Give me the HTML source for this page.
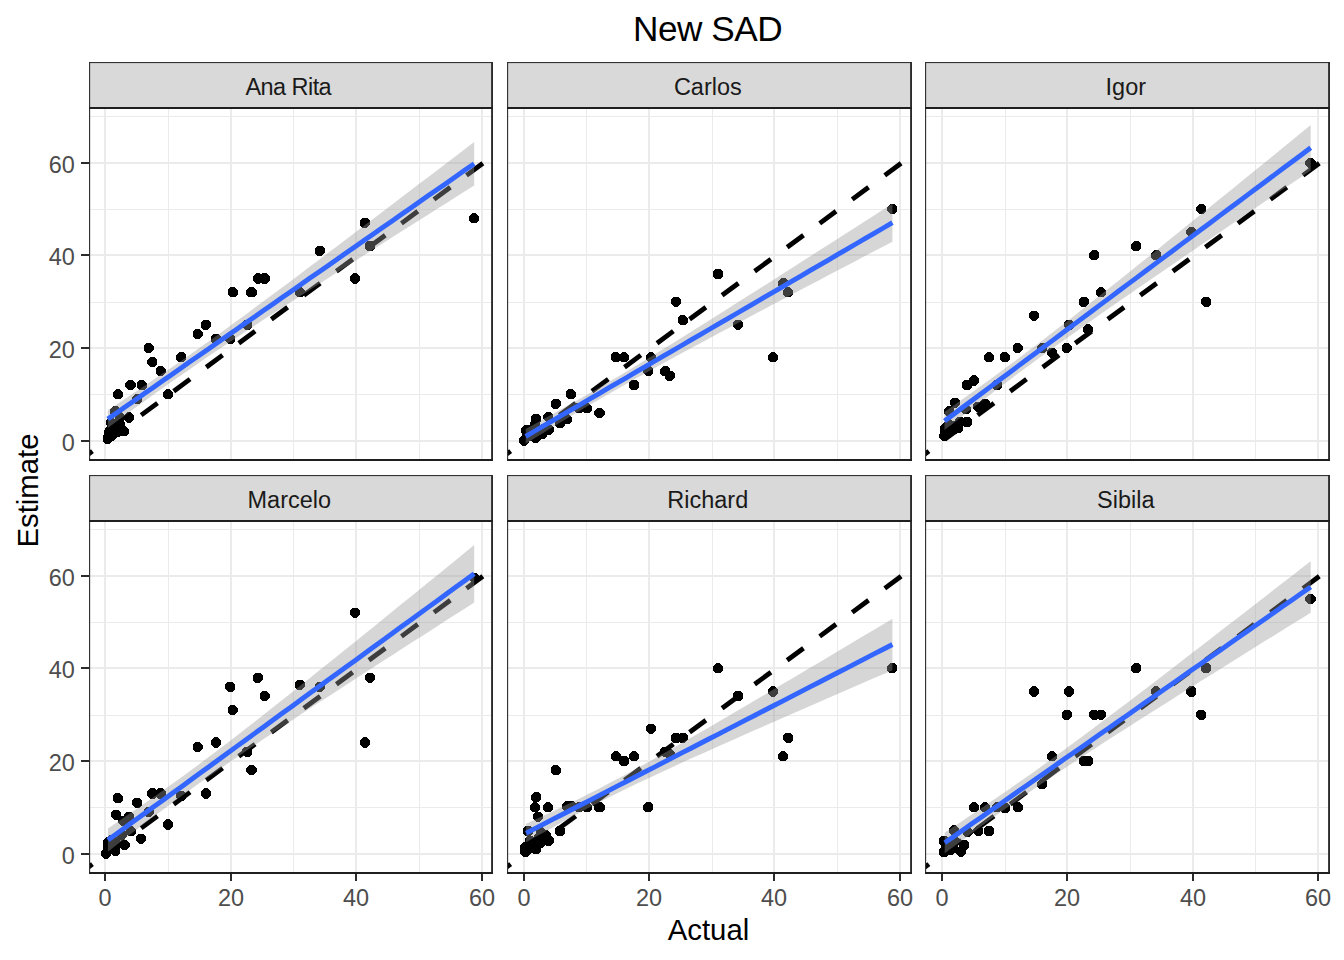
<!DOCTYPE html><html><head><meta charset="utf-8"><title>New SAD</title>
<style>html,body{margin:0;padding:0;background:#fff}svg{display:block}text{font-family:"Liberation Sans",sans-serif}</style></head><body>
<svg width="1344" height="960" viewBox="0 0 1344 960">
<rect width="1344" height="960" fill="#fff"/>
<defs>
<clipPath id="c0"><rect x="89.0" y="108.0" width="404.0" height="352.0"/></clipPath>
<clipPath id="c1"><rect x="507.0" y="108.0" width="405.0" height="352.0"/></clipPath>
<clipPath id="c2"><rect x="925.0" y="108.0" width="405.0" height="352.0"/></clipPath>
<clipPath id="c3"><rect x="89.0" y="521.0" width="404.0" height="352.0"/></clipPath>
<clipPath id="c4"><rect x="507.0" y="521.0" width="405.0" height="352.0"/></clipPath>
<clipPath id="c5"><rect x="925.0" y="521.0" width="405.0" height="352.0"/></clipPath>
<path id="o" d="M-2.09,-5.05L2.09,-5.05L5.05,-2.09L5.05,2.09L2.09,5.05L-2.09,5.05L-5.05,2.09L-5.05,-2.09Z"/>
</defs>
<text x="707.6" y="40.9" font-size="35.2" text-anchor="middle" fill="#000" letter-spacing="-0.5">New SAD</text>
<text x="708.5" y="939.5" font-size="29.33" text-anchor="middle" fill="#000">Actual</text>
<text transform="translate(37.6,490.5) rotate(-90)" font-size="29.33" text-anchor="middle" fill="#000">Estimate</text>
<rect x="89.0" y="62.0" width="404.0" height="46.0" fill="#D9D9D9"/>
<text x="288.3" y="94.6" font-size="23.47" text-anchor="middle" fill="#1A1A1A" letter-spacing="-0.55">Ana Rita</text>
<rect x="168" y="108.0" width="1" height="352.0" fill="#EBEBEB"/><rect x="293" y="108.0" width="1" height="352.0" fill="#EBEBEB"/><rect x="419" y="108.0" width="1" height="352.0" fill="#EBEBEB"/><rect x="89.0" y="394" width="404.0" height="1" fill="#EBEBEB"/><rect x="89.0" y="302" width="404.0" height="1" fill="#EBEBEB"/><rect x="89.0" y="209" width="404.0" height="1" fill="#EBEBEB"/><rect x="89.0" y="116" width="404.0" height="1" fill="#EBEBEB"/><rect x="104" y="108.0" width="2" height="352.0" fill="#EBEBEB"/><rect x="89.0" y="440" width="404.0" height="2" fill="#EBEBEB"/><rect x="230" y="108.0" width="2" height="352.0" fill="#EBEBEB"/><rect x="89.0" y="347" width="404.0" height="2" fill="#EBEBEB"/><rect x="355" y="108.0" width="2" height="352.0" fill="#EBEBEB"/><rect x="89.0" y="254" width="404.0" height="2" fill="#EBEBEB"/><rect x="481" y="108.0" width="2" height="352.0" fill="#EBEBEB"/><rect x="89.0" y="162" width="404.0" height="2" fill="#EBEBEB"/>
<g clip-path="url(#c0)">
<g fill="#000" shape-rendering="crispEdges"><use href="#o" x="474.0" y="218.3"/><use href="#o" x="364.9" y="222.9"/><use href="#o" x="370.0" y="246.1"/><use href="#o" x="319.8" y="250.7"/><use href="#o" x="354.9" y="278.5"/><use href="#o" x="299.7" y="292.4"/><use href="#o" x="264.6" y="278.5"/><use href="#o" x="257.7" y="278.5"/><use href="#o" x="251.5" y="292.4"/><use href="#o" x="247.1" y="324.8"/><use href="#o" x="232.7" y="292.4"/><use href="#o" x="230.2" y="338.8"/><use href="#o" x="215.7" y="338.8"/><use href="#o" x="205.7" y="324.8"/><use href="#o" x="197.6" y="334.1"/><use href="#o" x="181.3" y="357.3"/><use href="#o" x="168.1" y="394.4"/><use href="#o" x="160.6" y="371.2"/><use href="#o" x="152.4" y="361.9"/><use href="#o" x="148.7" y="348.0"/><use href="#o" x="141.8" y="385.1"/><use href="#o" x="137.4" y="399.0"/><use href="#o" x="130.5" y="385.1"/><use href="#o" x="129.2" y="417.5"/><use href="#o" x="124.2" y="431.4"/><use href="#o" x="119.8" y="417.5"/><use href="#o" x="117.9" y="394.4"/><use href="#o" x="115.4" y="411.5"/><use href="#o" x="111.0" y="422.2"/><use href="#o" x="107.6" y="438.8"/><use href="#o" x="108.5" y="437.0"/><use href="#o" x="111.0" y="436.1"/><use href="#o" x="113.5" y="434.2"/><use href="#o" x="116.7" y="432.4"/><use href="#o" x="109.2" y="432.4"/><use href="#o" x="110.4" y="430.5"/><use href="#o" x="112.9" y="428.7"/><use href="#o" x="115.4" y="426.8"/><use href="#o" x="117.9" y="425.9"/><use href="#o" x="111.7" y="424.9"/><use href="#o" x="120.4" y="424.9"/></g>
<line x1="76.10" y1="463.16" x2="498.00" y2="152.14" stroke="#000" stroke-width="4.8" stroke-dasharray="20.3 20.12"/>
<polygon points="107.8,410.3 116.9,404.3 126.1,398.2 135.3,392.1 144.4,386.0 153.6,379.8 162.7,373.5 171.9,367.2 181.1,360.9 190.2,354.4 199.4,348.0 208.5,341.4 217.7,334.9 226.9,328.2 236.0,321.6 245.2,314.9 254.4,308.1 263.5,301.3 272.7,294.5 281.8,287.7 291.0,280.9 300.2,274.0 309.3,267.1 318.5,260.2 327.6,253.3 336.8,246.4 346.0,239.5 355.1,232.6 364.3,225.6 373.4,218.7 382.6,211.7 391.8,204.7 400.9,197.8 410.1,190.8 419.2,183.8 428.4,176.9 437.6,169.9 446.7,162.9 455.9,155.9 465.0,148.9 474.2,141.9 474.2,185.5 465.0,191.3 455.9,197.1 446.7,202.9 437.6,208.6 428.4,214.4 419.2,220.2 410.1,226.0 400.9,231.8 391.8,237.6 382.6,243.4 373.4,249.2 364.3,255.1 355.1,260.9 346.0,266.7 336.8,272.6 327.6,278.4 318.5,284.3 309.3,290.2 300.2,296.1 291.0,302.0 281.8,307.9 272.7,313.8 263.5,319.8 254.4,325.8 245.2,331.8 236.0,337.9 226.9,344.0 217.7,350.1 208.5,356.3 199.4,362.6 190.2,368.9 181.1,375.2 171.9,381.6 162.7,388.1 153.6,394.6 144.4,401.2 135.3,407.8 126.1,414.5 116.9,421.2 107.8,427.9" fill="#999999" fill-opacity="0.4"/>
<polyline points="107.8,419.1 116.9,412.7 126.1,406.3 135.3,400.0 144.4,393.6 153.6,387.2 162.7,380.8 171.9,374.4 181.1,368.0 190.2,361.6 199.4,355.3 208.5,348.9 217.7,342.5 226.9,336.1 236.0,329.7 245.2,323.3 254.4,317.0 263.5,310.6 272.7,304.2 281.8,297.8 291.0,291.4 300.2,285.0 309.3,278.6 318.5,272.3 327.6,265.9 336.8,259.5 346.0,253.1 355.1,246.7 364.3,240.3 373.4,234.0 382.6,227.6 391.8,221.2 400.9,214.8 410.1,208.4 419.2,202.0 428.4,195.6 437.6,189.3 446.7,182.9 455.9,176.5 465.0,170.1 474.2,163.7" fill="none" stroke="#3366FF" stroke-width="4.9" stroke-linejoin="round"/>
</g>
<rect x="89.0" y="62.0" width="404.0" height="1.1" fill="#333"/>
<rect x="89.0" y="62.0" width="1.15" height="399.0" fill="#333"/>
<rect x="491.1" y="62.0" width="1.9" height="399.0" fill="#2b2b2b"/>
<rect x="89.0" y="107.0" width="404.0" height="2" fill="#1f1f1f"/>
<rect x="89.0" y="459.0" width="404.0" height="2" fill="#1f1f1f"/>
<rect x="81.0" y="440" width="8" height="2" fill="#2b2b2b"/>
<text x="74.9" y="451.40" font-size="23.47" text-anchor="end" fill="#4D4D4D">0</text>
<rect x="81.0" y="347" width="8" height="2" fill="#2b2b2b"/>
<text x="74.9" y="358.40" font-size="23.47" text-anchor="end" fill="#4D4D4D">20</text>
<rect x="81.0" y="254" width="8" height="2" fill="#2b2b2b"/>
<text x="74.9" y="265.40" font-size="23.47" text-anchor="end" fill="#4D4D4D">40</text>
<rect x="81.0" y="162" width="8" height="2" fill="#2b2b2b"/>
<text x="74.9" y="173.40" font-size="23.47" text-anchor="end" fill="#4D4D4D">60</text>
<rect x="507.0" y="62.0" width="405.0" height="46.0" fill="#D9D9D9"/>
<text x="707.8" y="94.6" font-size="23.47" text-anchor="middle" fill="#1A1A1A">Carlos</text>
<rect x="586" y="108.0" width="1" height="352.0" fill="#EBEBEB"/><rect x="712" y="108.0" width="1" height="352.0" fill="#EBEBEB"/><rect x="837" y="108.0" width="1" height="352.0" fill="#EBEBEB"/><rect x="507.0" y="394" width="405.0" height="1" fill="#EBEBEB"/><rect x="507.0" y="302" width="405.0" height="1" fill="#EBEBEB"/><rect x="507.0" y="209" width="405.0" height="1" fill="#EBEBEB"/><rect x="507.0" y="116" width="405.0" height="1" fill="#EBEBEB"/><rect x="523" y="108.0" width="2" height="352.0" fill="#EBEBEB"/><rect x="507.0" y="440" width="405.0" height="2" fill="#EBEBEB"/><rect x="648" y="108.0" width="2" height="352.0" fill="#EBEBEB"/><rect x="507.0" y="347" width="405.0" height="2" fill="#EBEBEB"/><rect x="773" y="108.0" width="2" height="352.0" fill="#EBEBEB"/><rect x="507.0" y="254" width="405.0" height="2" fill="#EBEBEB"/><rect x="899" y="108.0" width="2" height="352.0" fill="#EBEBEB"/><rect x="507.0" y="162" width="405.0" height="2" fill="#EBEBEB"/>
<g clip-path="url(#c1)">
<g fill="#000" shape-rendering="crispEdges"><use href="#o" x="892.3" y="209.0"/><use href="#o" x="718.0" y="273.9"/><use href="#o" x="783.2" y="283.1"/><use href="#o" x="788.2" y="292.4"/><use href="#o" x="738.0" y="324.8"/><use href="#o" x="773.1" y="357.3"/><use href="#o" x="676.0" y="301.7"/><use href="#o" x="682.9" y="320.2"/><use href="#o" x="650.9" y="357.3"/><use href="#o" x="648.4" y="371.2"/><use href="#o" x="665.3" y="371.2"/><use href="#o" x="669.7" y="375.8"/><use href="#o" x="615.8" y="357.3"/><use href="#o" x="623.9" y="357.3"/><use href="#o" x="634.0" y="385.1"/><use href="#o" x="570.7" y="394.4"/><use href="#o" x="555.6" y="403.6"/><use href="#o" x="578.8" y="408.3"/><use href="#o" x="587.0" y="408.3"/><use href="#o" x="599.5" y="412.9"/><use href="#o" x="536.2" y="418.9"/><use href="#o" x="548.4" y="417.1"/><use href="#o" x="566.9" y="419.4"/><use href="#o" x="560.0" y="423.1"/><use href="#o" x="548.7" y="429.6"/><use href="#o" x="535.6" y="438.2"/><use href="#o" x="524.3" y="440.5"/><use href="#o" x="526.8" y="435.1"/><use href="#o" x="529.3" y="436.1"/><use href="#o" x="531.8" y="433.3"/><use href="#o" x="534.3" y="434.2"/><use href="#o" x="537.4" y="430.5"/><use href="#o" x="541.8" y="434.2"/><use href="#o" x="543.7" y="428.7"/><use href="#o" x="526.1" y="430.5"/><use href="#o" x="534.9" y="424.9"/><use href="#o" x="529.9" y="429.6"/></g>
<line x1="494.34" y1="463.16" x2="917.00" y2="151.58" stroke="#000" stroke-width="4.8" stroke-dasharray="20.3 20.12"/>
<polygon points="525.7,428.9 534.9,423.9 544.0,418.8 553.2,413.7 562.4,408.6 571.6,403.5 580.7,398.3 589.9,393.0 599.1,387.7 608.2,382.3 617.4,376.9 626.6,371.4 635.7,365.9 644.9,360.3 654.1,354.7 663.2,349.1 672.4,343.4 681.6,337.7 690.7,332.0 699.9,326.3 709.1,320.5 718.2,314.7 727.4,308.9 736.6,303.1 745.8,297.3 754.9,291.5 764.1,285.7 773.3,279.9 782.4,274.0 791.6,268.2 800.8,262.3 809.9,256.5 819.1,250.6 828.3,244.8 837.4,238.9 846.6,233.0 855.8,227.2 864.9,221.3 874.1,215.4 883.3,209.5 892.4,203.7 892.4,241.7 883.3,246.5 874.1,251.3 864.9,256.1 855.8,260.9 846.6,265.7 837.4,270.5 828.3,275.3 819.1,280.2 809.9,285.0 800.8,289.8 791.6,294.7 782.4,299.5 773.3,304.3 764.1,309.2 754.9,314.0 745.8,318.9 736.6,323.8 727.4,328.7 718.2,333.6 709.1,338.5 699.9,343.4 690.7,348.3 681.6,353.3 672.4,358.3 663.2,363.3 654.1,368.3 644.9,373.4 635.7,378.5 626.6,383.7 617.4,388.9 608.2,394.2 599.1,399.5 589.9,404.8 580.7,410.3 571.6,415.7 562.4,421.2 553.2,426.8 544.0,432.4 534.9,438.0 525.7,443.7" fill="#999999" fill-opacity="0.4"/>
<polyline points="525.7,436.3 534.9,431.0 544.0,425.6 553.2,420.3 562.4,414.9 571.6,409.6 580.7,404.3 589.9,398.9 599.1,393.6 608.2,388.2 617.4,382.9 626.6,377.6 635.7,372.2 644.9,366.9 654.1,361.5 663.2,356.2 672.4,350.8 681.6,345.5 690.7,340.2 699.9,334.8 709.1,329.5 718.2,324.1 727.4,318.8 736.6,313.5 745.8,308.1 754.9,302.8 764.1,297.4 773.3,292.1 782.4,286.8 791.6,281.4 800.8,276.1 809.9,270.7 819.1,265.4 828.3,260.1 837.4,254.7 846.6,249.4 855.8,244.0 864.9,238.7 874.1,233.4 883.3,228.0 892.4,222.7" fill="none" stroke="#3366FF" stroke-width="4.9" stroke-linejoin="round"/>
</g>
<rect x="507.0" y="62.0" width="405.0" height="1.1" fill="#333"/>
<rect x="507.0" y="62.0" width="1.15" height="399.0" fill="#333"/>
<rect x="910.1" y="62.0" width="1.9" height="399.0" fill="#2b2b2b"/>
<rect x="507.0" y="107.0" width="405.0" height="2" fill="#1f1f1f"/>
<rect x="507.0" y="459.0" width="405.0" height="2" fill="#1f1f1f"/>
<rect x="925.0" y="62.0" width="405.0" height="46.0" fill="#D9D9D9"/>
<text x="1125.8" y="94.6" font-size="23.47" text-anchor="middle" fill="#1A1A1A">Igor</text>
<rect x="1005" y="108.0" width="1" height="352.0" fill="#EBEBEB"/><rect x="1130" y="108.0" width="1" height="352.0" fill="#EBEBEB"/><rect x="1255" y="108.0" width="1" height="352.0" fill="#EBEBEB"/><rect x="925.0" y="394" width="405.0" height="1" fill="#EBEBEB"/><rect x="925.0" y="302" width="405.0" height="1" fill="#EBEBEB"/><rect x="925.0" y="209" width="405.0" height="1" fill="#EBEBEB"/><rect x="925.0" y="116" width="405.0" height="1" fill="#EBEBEB"/><rect x="941" y="108.0" width="2" height="352.0" fill="#EBEBEB"/><rect x="925.0" y="440" width="405.0" height="2" fill="#EBEBEB"/><rect x="1066" y="108.0" width="2" height="352.0" fill="#EBEBEB"/><rect x="925.0" y="347" width="405.0" height="2" fill="#EBEBEB"/><rect x="1192" y="108.0" width="2" height="352.0" fill="#EBEBEB"/><rect x="925.0" y="254" width="405.0" height="2" fill="#EBEBEB"/><rect x="1317" y="108.0" width="2" height="352.0" fill="#EBEBEB"/><rect x="925.0" y="162" width="405.0" height="2" fill="#EBEBEB"/>
<g clip-path="url(#c2)">
<g fill="#000" shape-rendering="crispEdges"><use href="#o" x="1310.5" y="162.7"/><use href="#o" x="1201.4" y="209.0"/><use href="#o" x="1191.4" y="232.2"/><use href="#o" x="1156.3" y="255.3"/><use href="#o" x="1136.2" y="246.1"/><use href="#o" x="1206.4" y="301.7"/><use href="#o" x="1094.2" y="255.3"/><use href="#o" x="1101.1" y="292.4"/><use href="#o" x="1083.6" y="301.7"/><use href="#o" x="1034.0" y="315.6"/><use href="#o" x="1069.1" y="324.8"/><use href="#o" x="1087.9" y="329.5"/><use href="#o" x="1066.6" y="348.0"/><use href="#o" x="1042.2" y="348.0"/><use href="#o" x="1052.2" y="352.7"/><use href="#o" x="1017.7" y="348.0"/><use href="#o" x="988.9" y="357.3"/><use href="#o" x="1004.6" y="357.3"/><use href="#o" x="973.9" y="380.5"/><use href="#o" x="967.0" y="385.1"/><use href="#o" x="997.0" y="385.1"/><use href="#o" x="955.0" y="402.7"/><use href="#o" x="965.7" y="409.2"/><use href="#o" x="978.2" y="406.9"/><use href="#o" x="985.1" y="403.6"/><use href="#o" x="960.1" y="421.7"/><use href="#o" x="967.0" y="421.9"/><use href="#o" x="949.4" y="411.5"/><use href="#o" x="948.8" y="424.5"/><use href="#o" x="944.4" y="436.1"/><use href="#o" x="945.0" y="429.1"/><use href="#o" x="948.1" y="433.3"/><use href="#o" x="951.3" y="430.5"/><use href="#o" x="954.4" y="428.7"/><use href="#o" x="958.2" y="427.7"/><use href="#o" x="947.5" y="425.9"/><use href="#o" x="944.7" y="432.4"/><use href="#o" x="951.9" y="425.9"/></g>
<line x1="912.58" y1="463.16" x2="1335.00" y2="151.76" stroke="#000" stroke-width="4.8" stroke-dasharray="20.3 20.12"/>
<polygon points="944.5,411.9 953.7,405.4 962.8,398.9 972.0,392.4 981.1,385.8 990.3,379.2 999.4,372.5 1008.6,365.7 1017.7,358.9 1026.9,352.1 1036.1,345.2 1045.2,338.2 1054.4,331.1 1063.5,324.1 1072.7,316.9 1081.8,309.8 1091.0,302.6 1100.1,295.3 1109.3,288.0 1118.4,280.8 1127.6,273.4 1136.8,266.1 1145.9,258.8 1155.1,251.4 1164.2,244.0 1173.4,236.6 1182.5,229.3 1191.7,221.8 1200.8,214.4 1210.0,207.0 1219.1,199.6 1228.3,192.2 1237.5,184.7 1246.6,177.3 1255.8,169.8 1264.9,162.4 1274.1,155.0 1283.2,147.5 1292.4,140.0 1301.5,132.6 1310.7,125.1 1310.7,170.5 1301.5,176.7 1292.4,182.9 1283.2,189.1 1274.1,195.3 1264.9,201.6 1255.8,207.8 1246.6,214.0 1237.5,220.2 1228.3,226.4 1219.1,232.7 1210.0,238.9 1200.8,245.1 1191.7,251.4 1182.5,257.6 1173.4,263.9 1164.2,270.2 1155.1,276.5 1145.9,282.8 1136.8,289.1 1127.6,295.4 1118.4,301.7 1109.3,308.1 1100.1,314.5 1091.0,320.9 1081.8,327.4 1072.7,333.9 1063.5,340.4 1054.4,347.0 1045.2,353.6 1036.1,360.3 1026.9,367.0 1017.7,373.8 1008.6,380.7 999.4,387.6 990.3,394.5 981.1,401.6 972.0,408.6 962.8,415.8 953.7,422.9 944.5,430.1" fill="#999999" fill-opacity="0.4"/>
<polyline points="944.5,421.0 953.7,414.2 962.8,407.3 972.0,400.5 981.1,393.7 990.3,386.9 999.4,380.0 1008.6,373.2 1017.7,366.4 1026.9,359.5 1036.1,352.7 1045.2,345.9 1054.4,339.1 1063.5,332.2 1072.7,325.4 1081.8,318.6 1091.0,311.7 1100.1,304.9 1109.3,298.1 1118.4,291.2 1127.6,284.4 1136.8,277.6 1145.9,270.8 1155.1,263.9 1164.2,257.1 1173.4,250.3 1182.5,243.4 1191.7,236.6 1200.8,229.8 1210.0,223.0 1219.1,216.1 1228.3,209.3 1237.5,202.5 1246.6,195.6 1255.8,188.8 1264.9,182.0 1274.1,175.1 1283.2,168.3 1292.4,161.5 1301.5,154.7 1310.7,147.8" fill="none" stroke="#3366FF" stroke-width="4.9" stroke-linejoin="round"/>
</g>
<rect x="925.0" y="62.0" width="405.0" height="1.1" fill="#333"/>
<rect x="925.0" y="62.0" width="1.15" height="399.0" fill="#333"/>
<rect x="1328.1" y="62.0" width="1.9" height="399.0" fill="#2b2b2b"/>
<rect x="925.0" y="107.0" width="405.0" height="2" fill="#1f1f1f"/>
<rect x="925.0" y="459.0" width="405.0" height="2" fill="#1f1f1f"/>
<rect x="89.0" y="475.0" width="404.0" height="46.0" fill="#D9D9D9"/>
<text x="289.3" y="507.6" font-size="23.47" text-anchor="middle" fill="#1A1A1A">Marcelo</text>
<rect x="168" y="521.0" width="1" height="352.0" fill="#EBEBEB"/><rect x="293" y="521.0" width="1" height="352.0" fill="#EBEBEB"/><rect x="419" y="521.0" width="1" height="352.0" fill="#EBEBEB"/><rect x="89.0" y="807" width="404.0" height="1" fill="#EBEBEB"/><rect x="89.0" y="715" width="404.0" height="1" fill="#EBEBEB"/><rect x="89.0" y="622" width="404.0" height="1" fill="#EBEBEB"/><rect x="89.0" y="529" width="404.0" height="1" fill="#EBEBEB"/><rect x="104" y="521.0" width="2" height="352.0" fill="#EBEBEB"/><rect x="89.0" y="853" width="404.0" height="2" fill="#EBEBEB"/><rect x="230" y="521.0" width="2" height="352.0" fill="#EBEBEB"/><rect x="89.0" y="760" width="404.0" height="2" fill="#EBEBEB"/><rect x="355" y="521.0" width="2" height="352.0" fill="#EBEBEB"/><rect x="89.0" y="667" width="404.0" height="2" fill="#EBEBEB"/><rect x="481" y="521.0" width="2" height="352.0" fill="#EBEBEB"/><rect x="89.0" y="575" width="404.0" height="2" fill="#EBEBEB"/>
<g clip-path="url(#c3)">
<g fill="#000" shape-rendering="crispEdges"><use href="#o" x="474.6" y="578.0"/><use href="#o" x="354.9" y="612.7"/><use href="#o" x="370.0" y="677.6"/><use href="#o" x="299.7" y="684.6"/><use href="#o" x="319.8" y="686.9"/><use href="#o" x="364.9" y="742.5"/><use href="#o" x="257.7" y="677.6"/><use href="#o" x="230.2" y="686.9"/><use href="#o" x="264.6" y="696.1"/><use href="#o" x="232.7" y="710.0"/><use href="#o" x="215.7" y="742.5"/><use href="#o" x="197.6" y="747.1"/><use href="#o" x="247.1" y="751.8"/><use href="#o" x="251.5" y="770.3"/><use href="#o" x="205.7" y="793.5"/><use href="#o" x="181.3" y="795.8"/><use href="#o" x="152.4" y="793.5"/><use href="#o" x="160.6" y="793.5"/><use href="#o" x="117.9" y="798.1"/><use href="#o" x="137.4" y="802.7"/><use href="#o" x="116.1" y="814.8"/><use href="#o" x="129.2" y="816.9"/><use href="#o" x="123.0" y="820.8"/><use href="#o" x="148.7" y="812.0"/><use href="#o" x="168.1" y="824.5"/><use href="#o" x="130.8" y="831.2"/><use href="#o" x="121.7" y="834.7"/><use href="#o" x="141.1" y="838.6"/><use href="#o" x="124.5" y="844.9"/><use href="#o" x="115.4" y="850.5"/><use href="#o" x="106.3" y="853.5"/><use href="#o" x="107.9" y="846.7"/><use href="#o" x="110.4" y="848.1"/><use href="#o" x="112.9" y="844.9"/><use href="#o" x="115.4" y="842.6"/><use href="#o" x="108.5" y="841.7"/><use href="#o" x="111.7" y="839.8"/></g>
<line x1="76.10" y1="876.16" x2="498.00" y2="565.14" stroke="#000" stroke-width="4.8" stroke-dasharray="20.3 20.12"/>
<polygon points="107.9,828.5 117.1,822.3 126.2,816.1 135.4,809.8 144.5,803.5 153.7,797.1 162.9,790.6 172.0,784.0 181.2,777.4 190.3,770.7 199.5,763.9 208.6,757.1 217.8,750.2 227.0,743.2 236.1,736.2 245.3,729.1 254.4,722.0 263.6,714.8 272.7,707.6 281.9,700.3 291.1,693.1 300.2,685.8 309.4,678.5 318.5,671.1 327.7,663.8 336.8,656.4 346.0,649.1 355.2,641.7 364.3,634.3 373.5,626.9 382.6,619.5 391.8,612.0 400.9,604.6 410.1,597.2 419.3,589.8 428.4,582.3 437.6,574.9 446.7,567.4 455.9,560.0 465.0,552.5 474.2,545.1 474.2,602.5 465.0,608.4 455.9,614.3 446.7,620.1 437.6,626.0 428.4,631.9 419.3,637.7 410.1,643.6 400.9,649.5 391.8,655.4 382.6,661.3 373.5,667.2 364.3,673.1 355.2,679.0 346.0,685.0 336.8,690.9 327.7,696.9 318.5,702.8 309.4,708.8 300.2,714.8 291.1,720.9 281.9,726.9 272.7,733.0 263.6,739.1 254.4,745.2 245.3,751.4 236.1,757.7 227.0,763.9 217.8,770.3 208.6,776.7 199.5,783.1 190.3,789.7 181.2,796.3 172.0,803.0 162.9,809.8 153.7,816.6 144.5,823.5 135.4,830.5 126.2,837.5 117.1,844.6 107.9,851.7" fill="#999999" fill-opacity="0.4"/>
<polyline points="107.9,840.1 117.1,833.5 126.2,826.8 135.4,820.1 144.5,813.5 153.7,806.8 162.9,800.2 172.0,793.5 181.2,786.9 190.3,780.2 199.5,773.5 208.6,766.9 217.8,760.2 227.0,753.6 236.1,746.9 245.3,740.3 254.4,733.6 263.6,726.9 272.7,720.3 281.9,713.6 291.1,707.0 300.2,700.3 309.4,693.6 318.5,687.0 327.7,680.3 336.8,673.7 346.0,667.0 355.2,660.4 364.3,653.7 373.5,647.0 382.6,640.4 391.8,633.7 400.9,627.1 410.1,620.4 419.3,613.8 428.4,607.1 437.6,600.4 446.7,593.8 455.9,587.1 465.0,580.5 474.2,573.8" fill="none" stroke="#3366FF" stroke-width="4.9" stroke-linejoin="round"/>
</g>
<rect x="89.0" y="475.0" width="404.0" height="1.1" fill="#333"/>
<rect x="89.0" y="475.0" width="1.15" height="399.0" fill="#333"/>
<rect x="491.1" y="475.0" width="1.9" height="399.0" fill="#2b2b2b"/>
<rect x="89.0" y="520.0" width="404.0" height="2" fill="#1f1f1f"/>
<rect x="89.0" y="872.0" width="404.0" height="2" fill="#1f1f1f"/>
<rect x="104" y="874.0" width="2" height="7" fill="#2b2b2b"/>
<text x="105.00" y="906.3" font-size="23.47" text-anchor="middle" fill="#4D4D4D">0</text>
<rect x="230" y="874.0" width="2" height="7" fill="#2b2b2b"/>
<text x="231.00" y="906.3" font-size="23.47" text-anchor="middle" fill="#4D4D4D">20</text>
<rect x="355" y="874.0" width="2" height="7" fill="#2b2b2b"/>
<text x="356.00" y="906.3" font-size="23.47" text-anchor="middle" fill="#4D4D4D">40</text>
<rect x="481" y="874.0" width="2" height="7" fill="#2b2b2b"/>
<text x="482.00" y="906.3" font-size="23.47" text-anchor="middle" fill="#4D4D4D">60</text>
<rect x="81.0" y="853" width="8" height="2" fill="#2b2b2b"/>
<text x="74.9" y="864.40" font-size="23.47" text-anchor="end" fill="#4D4D4D">0</text>
<rect x="81.0" y="760" width="8" height="2" fill="#2b2b2b"/>
<text x="74.9" y="771.40" font-size="23.47" text-anchor="end" fill="#4D4D4D">20</text>
<rect x="81.0" y="667" width="8" height="2" fill="#2b2b2b"/>
<text x="74.9" y="678.40" font-size="23.47" text-anchor="end" fill="#4D4D4D">40</text>
<rect x="81.0" y="575" width="8" height="2" fill="#2b2b2b"/>
<text x="74.9" y="586.40" font-size="23.47" text-anchor="end" fill="#4D4D4D">60</text>
<rect x="507.0" y="475.0" width="405.0" height="46.0" fill="#D9D9D9"/>
<text x="707.8" y="507.6" font-size="23.47" text-anchor="middle" fill="#1A1A1A">Richard</text>
<rect x="586" y="521.0" width="1" height="352.0" fill="#EBEBEB"/><rect x="712" y="521.0" width="1" height="352.0" fill="#EBEBEB"/><rect x="837" y="521.0" width="1" height="352.0" fill="#EBEBEB"/><rect x="507.0" y="807" width="405.0" height="1" fill="#EBEBEB"/><rect x="507.0" y="715" width="405.0" height="1" fill="#EBEBEB"/><rect x="507.0" y="622" width="405.0" height="1" fill="#EBEBEB"/><rect x="507.0" y="529" width="405.0" height="1" fill="#EBEBEB"/><rect x="523" y="521.0" width="2" height="352.0" fill="#EBEBEB"/><rect x="507.0" y="853" width="405.0" height="2" fill="#EBEBEB"/><rect x="648" y="521.0" width="2" height="352.0" fill="#EBEBEB"/><rect x="507.0" y="760" width="405.0" height="2" fill="#EBEBEB"/><rect x="773" y="521.0" width="2" height="352.0" fill="#EBEBEB"/><rect x="507.0" y="667" width="405.0" height="2" fill="#EBEBEB"/><rect x="899" y="521.0" width="2" height="352.0" fill="#EBEBEB"/><rect x="507.0" y="575" width="405.0" height="2" fill="#EBEBEB"/>
<g clip-path="url(#c4)">
<g fill="#000" shape-rendering="crispEdges"><use href="#o" x="718.0" y="668.3"/><use href="#o" x="738.0" y="696.1"/><use href="#o" x="773.1" y="691.5"/><use href="#o" x="892.3" y="668.3"/><use href="#o" x="788.2" y="737.9"/><use href="#o" x="783.2" y="756.4"/><use href="#o" x="650.9" y="728.6"/><use href="#o" x="676.0" y="737.9"/><use href="#o" x="682.9" y="737.9"/><use href="#o" x="665.3" y="751.8"/><use href="#o" x="669.7" y="754.1"/><use href="#o" x="615.8" y="756.4"/><use href="#o" x="623.9" y="761.0"/><use href="#o" x="634.0" y="756.4"/><use href="#o" x="555.6" y="770.3"/><use href="#o" x="648.4" y="807.4"/><use href="#o" x="599.5" y="807.4"/><use href="#o" x="587.0" y="807.4"/><use href="#o" x="578.8" y="807.4"/><use href="#o" x="566.9" y="806.4"/><use href="#o" x="571.3" y="806.0"/><use href="#o" x="548.1" y="807.4"/><use href="#o" x="536.2" y="797.2"/><use href="#o" x="534.9" y="807.4"/><use href="#o" x="538.1" y="816.6"/><use href="#o" x="528.0" y="831.0"/><use href="#o" x="560.0" y="831.0"/><use href="#o" x="540.6" y="831.9"/><use href="#o" x="545.6" y="835.2"/><use href="#o" x="548.7" y="840.7"/><use href="#o" x="529.9" y="840.7"/><use href="#o" x="540.6" y="842.6"/><use href="#o" x="536.2" y="849.1"/><use href="#o" x="525.5" y="851.8"/><use href="#o" x="524.9" y="847.4"/><use href="#o" x="532.4" y="845.6"/><use href="#o" x="529.3" y="848.1"/><use href="#o" x="529.9" y="843.5"/><use href="#o" x="535.6" y="841.7"/><use href="#o" x="538.7" y="837.9"/><use href="#o" x="533.0" y="846.7"/></g>
<line x1="494.34" y1="876.16" x2="917.00" y2="564.58" stroke="#000" stroke-width="4.8" stroke-dasharray="20.3 20.12"/>
<polygon points="526.1,823.8 535.3,819.6 544.5,815.3 553.6,811.0 562.8,806.6 571.9,802.2 581.1,797.7 590.2,793.1 599.4,788.4 608.6,783.6 617.7,778.8 626.9,773.9 636.0,768.9 645.2,763.8 654.4,758.7 663.5,753.5 672.7,748.3 681.8,743.1 691.0,737.8 700.1,732.5 709.3,727.2 718.5,721.8 727.6,716.5 736.8,711.1 745.9,705.7 755.1,700.3 764.2,694.9 773.4,689.5 782.6,684.1 791.7,678.7 800.9,673.2 810.0,667.8 819.2,662.4 828.3,656.9 837.5,651.5 846.7,646.0 855.8,640.6 865.0,635.1 874.1,629.7 883.3,624.2 892.4,618.8 892.4,670.2 883.3,674.2 874.1,678.1 865.0,682.1 855.8,686.1 846.7,690.1 837.5,694.1 828.3,698.0 819.2,702.0 810.0,706.0 800.9,710.0 791.7,714.0 782.6,718.0 773.4,722.0 764.2,726.1 755.1,730.1 745.9,734.1 736.8,738.2 727.6,742.2 718.5,746.3 709.3,750.4 700.1,754.5 691.0,758.6 681.8,762.8 672.7,767.0 663.5,771.2 654.4,775.4 645.2,779.8 636.0,784.1 626.9,788.6 617.7,793.1 608.6,797.6 599.4,802.3 590.2,807.1 581.1,811.9 571.9,816.8 562.8,821.8 553.6,826.9 544.5,832.0 535.3,837.1 526.1,842.3" fill="#999999" fill-opacity="0.4"/>
<polyline points="526.1,833.1 535.3,828.4 544.5,823.6 553.6,818.9 562.8,814.2 571.9,809.5 581.1,804.8 590.2,800.1 599.4,795.4 608.6,790.6 617.7,785.9 626.9,781.2 636.0,776.5 645.2,771.8 654.4,767.1 663.5,762.4 672.7,757.6 681.8,752.9 691.0,748.2 700.1,743.5 709.3,738.8 718.5,734.1 727.6,729.3 736.8,724.6 745.9,719.9 755.1,715.2 764.2,710.5 773.4,705.8 782.6,701.1 791.7,696.3 800.9,691.6 810.0,686.9 819.2,682.2 828.3,677.5 837.5,672.8 846.7,668.1 855.8,663.3 865.0,658.6 874.1,653.9 883.3,649.2 892.4,644.5" fill="none" stroke="#3366FF" stroke-width="4.9" stroke-linejoin="round"/>
</g>
<rect x="507.0" y="475.0" width="405.0" height="1.1" fill="#333"/>
<rect x="507.0" y="475.0" width="1.15" height="399.0" fill="#333"/>
<rect x="910.1" y="475.0" width="1.9" height="399.0" fill="#2b2b2b"/>
<rect x="507.0" y="520.0" width="405.0" height="2" fill="#1f1f1f"/>
<rect x="507.0" y="872.0" width="405.0" height="2" fill="#1f1f1f"/>
<rect x="523" y="874.0" width="2" height="7" fill="#2b2b2b"/>
<text x="524.00" y="906.3" font-size="23.47" text-anchor="middle" fill="#4D4D4D">0</text>
<rect x="648" y="874.0" width="2" height="7" fill="#2b2b2b"/>
<text x="649.00" y="906.3" font-size="23.47" text-anchor="middle" fill="#4D4D4D">20</text>
<rect x="773" y="874.0" width="2" height="7" fill="#2b2b2b"/>
<text x="774.00" y="906.3" font-size="23.47" text-anchor="middle" fill="#4D4D4D">40</text>
<rect x="899" y="874.0" width="2" height="7" fill="#2b2b2b"/>
<text x="900.00" y="906.3" font-size="23.47" text-anchor="middle" fill="#4D4D4D">60</text>
<rect x="925.0" y="475.0" width="405.0" height="46.0" fill="#D9D9D9"/>
<text x="1125.8" y="507.6" font-size="23.47" text-anchor="middle" fill="#1A1A1A">Sibila</text>
<rect x="1005" y="521.0" width="1" height="352.0" fill="#EBEBEB"/><rect x="1130" y="521.0" width="1" height="352.0" fill="#EBEBEB"/><rect x="1255" y="521.0" width="1" height="352.0" fill="#EBEBEB"/><rect x="925.0" y="807" width="405.0" height="1" fill="#EBEBEB"/><rect x="925.0" y="715" width="405.0" height="1" fill="#EBEBEB"/><rect x="925.0" y="622" width="405.0" height="1" fill="#EBEBEB"/><rect x="925.0" y="529" width="405.0" height="1" fill="#EBEBEB"/><rect x="941" y="521.0" width="2" height="352.0" fill="#EBEBEB"/><rect x="925.0" y="853" width="405.0" height="2" fill="#EBEBEB"/><rect x="1066" y="521.0" width="2" height="352.0" fill="#EBEBEB"/><rect x="925.0" y="760" width="405.0" height="2" fill="#EBEBEB"/><rect x="1192" y="521.0" width="2" height="352.0" fill="#EBEBEB"/><rect x="925.0" y="667" width="405.0" height="2" fill="#EBEBEB"/><rect x="1317" y="521.0" width="2" height="352.0" fill="#EBEBEB"/><rect x="925.0" y="575" width="405.0" height="2" fill="#EBEBEB"/>
<g clip-path="url(#c5)">
<g fill="#000" shape-rendering="crispEdges"><use href="#o" x="1136.2" y="668.3"/><use href="#o" x="1156.3" y="691.5"/><use href="#o" x="1206.4" y="668.3"/><use href="#o" x="1191.4" y="691.5"/><use href="#o" x="1201.4" y="714.7"/><use href="#o" x="1310.5" y="598.8"/><use href="#o" x="1034.0" y="691.5"/><use href="#o" x="1069.1" y="691.5"/><use href="#o" x="1066.6" y="714.7"/><use href="#o" x="1094.2" y="714.7"/><use href="#o" x="1101.1" y="714.7"/><use href="#o" x="1052.2" y="756.4"/><use href="#o" x="1083.6" y="761.0"/><use href="#o" x="1087.9" y="761.0"/><use href="#o" x="1042.2" y="784.2"/><use href="#o" x="973.9" y="807.4"/><use href="#o" x="985.1" y="807.4"/><use href="#o" x="1005.2" y="808.3"/><use href="#o" x="1017.7" y="807.4"/><use href="#o" x="997.0" y="807.4"/><use href="#o" x="978.2" y="831.0"/><use href="#o" x="988.9" y="831.0"/><use href="#o" x="967.6" y="831.9"/><use href="#o" x="953.8" y="830.5"/><use href="#o" x="943.9" y="841.0"/><use href="#o" x="964.1" y="844.9"/><use href="#o" x="961.0" y="851.8"/><use href="#o" x="943.9" y="852.2"/><use href="#o" x="950.7" y="850.0"/><use href="#o" x="945.6" y="846.7"/><use href="#o" x="948.1" y="844.4"/><use href="#o" x="951.3" y="843.5"/><use href="#o" x="954.4" y="840.7"/><use href="#o" x="948.1" y="849.1"/><use href="#o" x="953.2" y="848.1"/></g>
<line x1="912.58" y1="876.16" x2="1335.00" y2="564.76" stroke="#000" stroke-width="4.8" stroke-dasharray="20.3 20.12"/>
<polygon points="944.7,832.4 953.9,826.4 963.0,820.4 972.1,814.3 981.3,808.2 990.4,802.0 999.6,795.8 1008.7,789.5 1017.9,783.1 1027.0,776.7 1036.2,770.2 1045.3,763.6 1054.5,757.0 1063.6,750.3 1072.8,743.6 1081.9,736.8 1091.1,730.0 1100.2,723.1 1109.4,716.2 1118.5,709.3 1127.7,702.4 1136.8,695.4 1146.0,688.4 1155.1,681.4 1164.3,674.4 1173.4,667.4 1182.6,660.3 1191.7,653.3 1200.9,646.2 1210.0,639.2 1219.2,632.1 1228.3,625.0 1237.5,618.0 1246.6,610.9 1255.8,603.8 1264.9,596.7 1274.1,589.6 1283.2,582.5 1292.4,575.4 1301.5,568.3 1310.7,561.2 1310.7,612.7 1301.5,618.4 1292.4,624.1 1283.2,629.7 1274.1,635.4 1264.9,641.1 1255.8,646.8 1246.6,652.5 1237.5,658.2 1228.3,664.0 1219.2,669.7 1210.0,675.4 1200.9,681.1 1191.7,686.9 1182.6,692.6 1173.4,698.4 1164.3,704.2 1155.1,709.9 1146.0,715.7 1136.8,721.5 1127.7,727.4 1118.5,733.2 1109.4,739.1 1100.2,745.0 1091.1,751.0 1081.9,756.9 1072.8,762.9 1063.6,769.0 1054.5,775.1 1045.3,781.3 1036.2,787.5 1027.0,793.8 1017.9,800.2 1008.7,806.6 999.6,813.1 990.4,819.6 981.3,826.3 972.1,832.9 963.0,839.7 953.9,846.4 944.7,853.2" fill="#999999" fill-opacity="0.4"/>
<polyline points="944.7,842.8 953.9,836.4 963.0,830.0 972.1,823.6 981.3,817.2 990.4,810.8 999.6,804.4 1008.7,798.0 1017.9,791.6 1027.0,785.2 1036.2,778.8 1045.3,772.4 1054.5,766.0 1063.6,759.6 1072.8,753.2 1081.9,746.9 1091.1,740.5 1100.2,734.1 1109.4,727.7 1118.5,721.3 1127.7,714.9 1136.8,708.5 1146.0,702.1 1155.1,695.7 1164.3,689.3 1173.4,682.9 1182.6,676.5 1191.7,670.1 1200.9,663.7 1210.0,657.3 1219.2,650.9 1228.3,644.5 1237.5,638.1 1246.6,631.7 1255.8,625.3 1264.9,618.9 1274.1,612.5 1283.2,606.1 1292.4,599.7 1301.5,593.3 1310.7,586.9" fill="none" stroke="#3366FF" stroke-width="4.9" stroke-linejoin="round"/>
</g>
<rect x="925.0" y="475.0" width="405.0" height="1.1" fill="#333"/>
<rect x="925.0" y="475.0" width="1.15" height="399.0" fill="#333"/>
<rect x="1328.1" y="475.0" width="1.9" height="399.0" fill="#2b2b2b"/>
<rect x="925.0" y="520.0" width="405.0" height="2" fill="#1f1f1f"/>
<rect x="925.0" y="872.0" width="405.0" height="2" fill="#1f1f1f"/>
<rect x="941" y="874.0" width="2" height="7" fill="#2b2b2b"/>
<text x="942.00" y="906.3" font-size="23.47" text-anchor="middle" fill="#4D4D4D">0</text>
<rect x="1066" y="874.0" width="2" height="7" fill="#2b2b2b"/>
<text x="1067.00" y="906.3" font-size="23.47" text-anchor="middle" fill="#4D4D4D">20</text>
<rect x="1192" y="874.0" width="2" height="7" fill="#2b2b2b"/>
<text x="1193.00" y="906.3" font-size="23.47" text-anchor="middle" fill="#4D4D4D">40</text>
<rect x="1317" y="874.0" width="2" height="7" fill="#2b2b2b"/>
<text x="1318.00" y="906.3" font-size="23.47" text-anchor="middle" fill="#4D4D4D">60</text>
</svg></body></html>
